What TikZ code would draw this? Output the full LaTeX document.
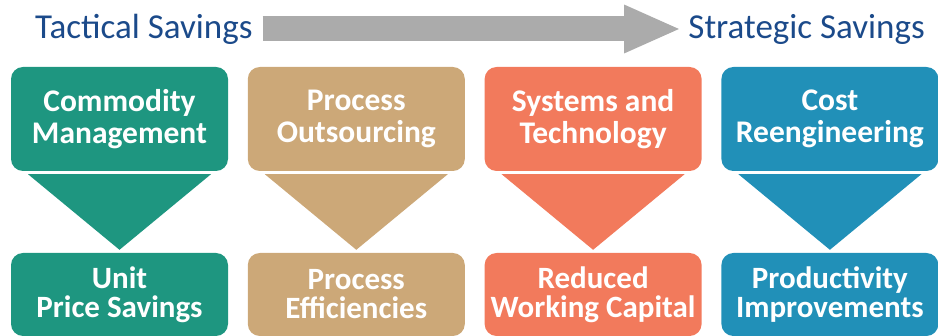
\documentclass[tikz,border=0pt]{standalone}
\usepackage{fontspec}
\setmainfont{Carlito}
\usetikzlibrary{positioning,arrows.meta}
\definecolor{cmgreen}{HTML}{1E9680}
\definecolor{potan}{HTML}{CCA878}
\definecolor{stsalmon}{HTML}{F27A5C}
\definecolor{crblue}{HTML}{2190B8}
\definecolor{titleblue}{HTML}{1B4A8A}
\definecolor{arrowgray}{HTML}{ABABAB}

\begin{document}
\begin{tikzpicture}[x=1pt,y=-1pt,
  lever/.style={rounded corners=12pt,minimum width=217pt,minimum height=104pt,inner sep=0pt,
    text=white,align=center,font=\fontsize{31.5}{31.5}\selectfont\bfseries},
  gain/.style={lever,minimum height=83pt,font=\fontsize{31}{29}\selectfont\bfseries},
  heading/.style={text=titleblue,inner sep=0pt,font=\fontsize{35}{37}\selectfont}]
  \useasboundingbox (0,0) rectangle (938,336);
  % tactical to strategic
  \node[heading,anchor=west] (tact) at (35,29) {Tactical Savings};
  \node[heading,anchor=east] (strat) at (925,29) {Strategic Savings};
  \draw[arrowgray,line width=25pt,-{Triangle[width=44pt,length=57pt]}]
    ([xshift=10pt]tact.east) -- ([xshift=-7pt]strat.west);
  % the four levers and what they bring
  \foreach \t/\b/\i/\c in {Commodity\\Management/Unit\\Price Savings/0/cmgreen,
      Process\\Outsourcing/Process\\Efficiencies/1/potan,
      Systems and\\Technology/Reduced\\Working Capital/2/stsalmon,
      Cost\\Reengineering/Productivity\\Improvements/3/crblue}{
    \node[lever,fill=\c] (t\i) at (119.5+236.8*\i,119) {\t};
    \node[gain,fill=\c] (b\i) at (119.5+236.8*\i,294.5) {\b};
    \fill[\c] (t\i.south) ++(-91.5,3) -- ++(183,0) -- ([yshift=3pt]b\i.north) -- cycle;
  }
\end{tikzpicture}
\end{document}
